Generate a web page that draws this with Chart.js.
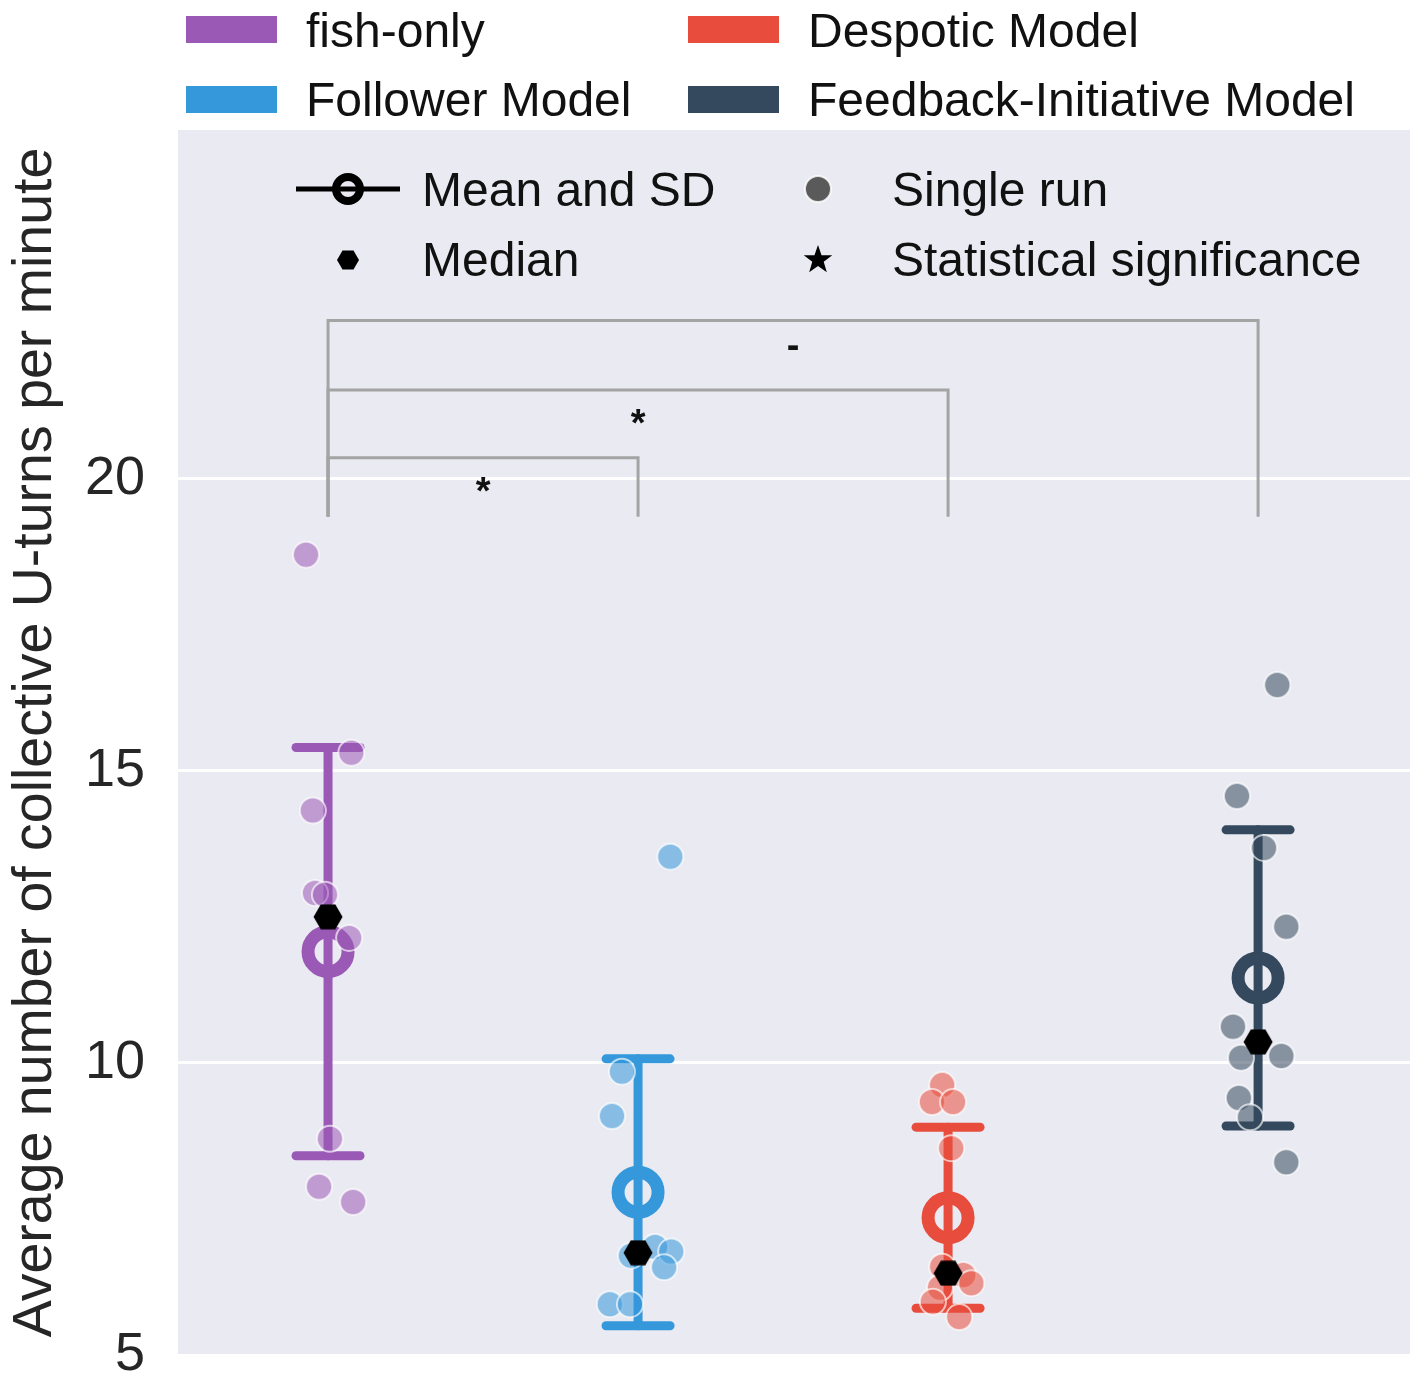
<!DOCTYPE html>
<html><head><meta charset="utf-8">
<script src="https://cdn.jsdelivr.net/npm/chart.js@4"></script>
<style>html,body{margin:0;padding:0;background:#fff;overflow:hidden;} canvas{display:block;}</style>
</head><body><canvas id="c" width="1413" height="1380" style="width:1413px;height:1380px"></canvas>
<script>
const categories = ['fish-only','Follower Model','Despotic Model','Feedback-Initiative Model'];
const seriesColors = ['#9b59b6','#3498db','#e74c3c','#34495e'];
const pointFill = ['rgba(155,89,182,0.55)','rgba(52,152,219,0.55)','rgba(231,76,60,0.55)','rgba(52,73,94,0.55)'];
const fishOnlyRuns = [18.70, 15.31, 14.32, 12.91, 12.88, 12.14, 8.70, 7.88, 7.62];
const fishOnlyJitter = [-0.071, 0.075, -0.049, -0.042, -0.010, 0.068, 0.006, -0.029, 0.081];
const followerRuns = [13.53, 9.85, 9.09, 6.70, 6.85, 6.77, 6.50, 5.87, 5.87];
const followerJitter = [0.104, -0.052, -0.084, -0.023, 0.055, 0.107, 0.084, -0.091, -0.026];
const despoticRuns = [9.62, 9.33, 9.33, 8.54, 6.51, 6.37, 6.23, 6.15, 5.91, 5.65];
const despoticJitter = [-0.019, -0.052, 0.016, 0.010, -0.019, 0.049, 0.075, -0.026, -0.049, 0.036];
const feedbackRuns = [16.47, 14.57, 13.68, 12.33, 10.62, 10.09, 10.12, 9.40, 9.07, 8.30];
const feedbackJitter = [0.062, -0.068, 0.019, 0.091, -0.081, -0.055, 0.075, -0.062, -0.026, 0.091];
const means = [11.905, 7.785, 7.35, 11.455];
const sds = [3.495, 2.285, 1.55, 2.535];
const medians = [12.50, 6.75, 6.40, 10.36];
const yTicks = [5, 10, 15, 20];
const yMin = 5, yMax = 25.97;
const xMin = -0.484, xMax = 3.490;
const bracketPairs = [[0,1],[0,2],[0,3]];
const bracketHeights = [20.36, 21.52, 22.71];
const bracketBottom = 19.35;
const bracketLabels = ['*','*','-'];
const yTitle = 'Average number of collective U-turns per minute';
const legendLabels = ['Mean and SD','Single run','Median','Statistical significance'];

const FONT = '"Liberation Sans", Arial, Helvetica, sans-serif';
const runs = [fishOnlyRuns, followerRuns, despoticRuns, feedbackRuns];
const jitters = [fishOnlyJitter, followerJitter, despoticJitter, feedbackJitter];

function hexPath(ctx, cx, cy, r) {
  ctx.beginPath();
  for (let k = 0; k < 6; k++) {
    const a = k * Math.PI / 3;
    const px = cx + r * Math.cos(a), py = cy + r * Math.sin(a);
    if (k === 0) ctx.moveTo(px, py); else ctx.lineTo(px, py);
  }
  ctx.closePath();
}
function starPath(ctx, cx, cy, R, r) {
  ctx.beginPath();
  for (let k = 0; k < 10; k++) {
    const a = -Math.PI / 2 + k * Math.PI / 5;
    const rr = k % 2 === 0 ? R : r;
    const px = cx + rr * Math.cos(a), py = cy + rr * Math.sin(a);
    if (k === 0) ctx.moveTo(px, py); else ctx.lineTo(px, py);
  }
  ctx.closePath();
}
const hexCanvas = document.createElement('canvas');
hexCanvas.width = 30; hexCanvas.height = 26;
(function(){ const g = hexCanvas.getContext('2d'); g.fillStyle = '#000'; hexPath(g, 15, 13, 14.5); g.fill(); })();

const datasets = [];
datasets.push({
  label: 'Median', order: 0,
  data: medians.map((m, i) => ({x: i, y: m})),
  pointStyle: hexCanvas, pointRadius: 14, showLine: false
});
runs.forEach((arr, g) => {
  datasets.push({
    label: categories[g] + ' runs', order: 1,
    data: arr.map((v, k) => ({x: g + jitters[g][k], y: v})),
    pointRadius: 13, pointBorderWidth: 2,
    backgroundColor: pointFill[g], borderColor: 'rgba(255,255,255,0.65)',
    pointBackgroundColor: pointFill[g], pointBorderColor: 'rgba(255,255,255,0.65)'
  });
});
datasets.push({
  label: 'Mean', order: 2,
  data: means.map((m, i) => ({x: i, y: m})),
  pointRadius: 20, pointBorderWidth: 13,
  pointBackgroundColor: 'rgba(0,0,0,0)',
  pointBorderColor: seriesColors, borderColor: seriesColors, backgroundColor: 'rgba(0,0,0,0)'
});

function drawCenteredText(ctx, text, cx, cy) {
  const m = ctx.measureText(text);
  const asc = m.actualBoundingBoxAscent, desc = m.actualBoundingBoxDescent;
  ctx.textBaseline = 'alphabetic';
  ctx.textAlign = 'center';
  ctx.fillText(text, cx, cy + (asc - desc) / 2);
}

const decor = {
  id: 'decor',
  beforeDraw(chart) {
    const {ctx, chartArea: a} = chart;
    ctx.save();
    ctx.fillStyle = '#eaeaf2';
    ctx.fillRect(a.left, a.top, a.right - a.left, a.bottom - a.top);
    ctx.restore();
  },
  beforeDatasetsDraw(chart) {
    const {ctx, scales: {x, y}} = chart;
    ctx.save();
    ctx.strokeStyle = '#a4a4a4';
    ctx.lineWidth = 3;
    ctx.lineCap = 'butt';
    bracketPairs.forEach((p, k) => {
      const x0 = x.getPixelForValue(p[0]), x1 = x.getPixelForValue(p[1]);
      const yt = y.getPixelForValue(bracketHeights[k]), yb = y.getPixelForValue(bracketBottom);
      ctx.beginPath();
      ctx.moveTo(x0, yb); ctx.lineTo(x0, yt); ctx.lineTo(x1, yt); ctx.lineTo(x1, yb);
      ctx.stroke();
      ctx.fillStyle = '#111';
      ctx.font = 'bold 38px ' + FONT;
      drawCenteredText(ctx, bracketLabels[k], (x0 + x1) / 2, yt + 27);
    });
    means.forEach((m, i) => {
      const px = x.getPixelForValue(i);
      const top = y.getPixelForValue(m + sds[i]), bot = y.getPixelForValue(m - sds[i]);
      ctx.strokeStyle = seriesColors[i];
      ctx.lineCap = 'round';
      ctx.lineWidth = 9;
      ctx.beginPath(); ctx.moveTo(px, top); ctx.lineTo(px, bot); ctx.stroke();
      ctx.beginPath(); ctx.moveTo(px - 32, top); ctx.lineTo(px + 32, top); ctx.stroke();
      ctx.beginPath(); ctx.moveTo(px - 32, bot); ctx.lineTo(px + 32, bot); ctx.stroke();
    });
    ctx.restore();
  },
  afterDraw(chart) {
    const {ctx} = chart;
    ctx.save();
    ctx.font = '48px ' + FONT;
    ctx.textAlign = 'left';
    ctx.textBaseline = 'alphabetic';
    const cols = [186, 688], rows = [16, 86], textX = [306, 808], base = [47, 116];
    const order = [[0, 0, 0], [2, 1, 0], [1, 0, 1], [3, 1, 1]];
    order.forEach(([ci, c, r]) => {
      ctx.fillStyle = seriesColors[ci];
      ctx.fillRect(cols[c], rows[r], 91, 27);
      ctx.fillStyle = '#111';
      ctx.fillText(categories[ci], textX[c], base[r]);
    });
    const r1 = 189, r2 = 260;
    ctx.strokeStyle = '#000'; ctx.lineWidth = 5;
    ctx.beginPath(); ctx.moveTo(296, r1); ctx.lineTo(400, r1); ctx.stroke();
    ctx.lineWidth = 8;
    ctx.beginPath(); ctx.arc(348, r1, 12, 0, Math.PI * 2); ctx.stroke();
    ctx.fillStyle = '#5a5a5a';
    ctx.strokeStyle = 'rgba(255,255,255,0.8)'; ctx.lineWidth = 2;
    ctx.beginPath(); ctx.arc(818, r1, 13, 0, Math.PI * 2); ctx.fill(); ctx.stroke();
    ctx.fillStyle = '#000';
    hexPath(ctx, 348, r2, 11); ctx.fill();
    starPath(ctx, 818, r2, 15, 6); ctx.fill();
    ctx.fillStyle = '#111';
    ctx.fillText(legendLabels[0], 422, 206);
    ctx.fillText(legendLabels[1], 892, 206);
    ctx.fillText(legendLabels[2], 422, 276);
    ctx.fillText(legendLabels[3], 892, 276);
    ctx.restore();
  }
};

new Chart(document.getElementById('c'), {
  type: 'scatter',
  data: {datasets},
  plugins: [decor],
  options: {
    responsive: false, maintainAspectRatio: false, animation: false,
    devicePixelRatio: 1,
    layout: {autoPadding: false, padding: {top: 130, bottom: 25, right: 3, left: 0}},
    plugins: {legend: {display: false}, tooltip: {enabled: false}},
    scales: {
      x: {type: 'linear', min: xMin, max: xMax, display: false},
      y: {
        type: 'linear', min: yMin, max: yMax,
        afterBuildTicks: s => { s.ticks = yTicks.map(v => ({value: v})); },
        afterFit: s => { s.width = 178; s.paddingTop = 0; s.paddingBottom = 0; },
        border: {display: false},
        grid: {color: '#ffffff', lineWidth: 3, drawTicks: false},
        ticks: {padding: 33, color: '#262626', font: {family: FONT, size: 54}},
        title: {display: true, text: yTitle, color: '#262626', padding: {top: 2, bottom: 0},
                font: {family: FONT, size: 55.5}}
      }
    }
  }
});
</script></body></html>
